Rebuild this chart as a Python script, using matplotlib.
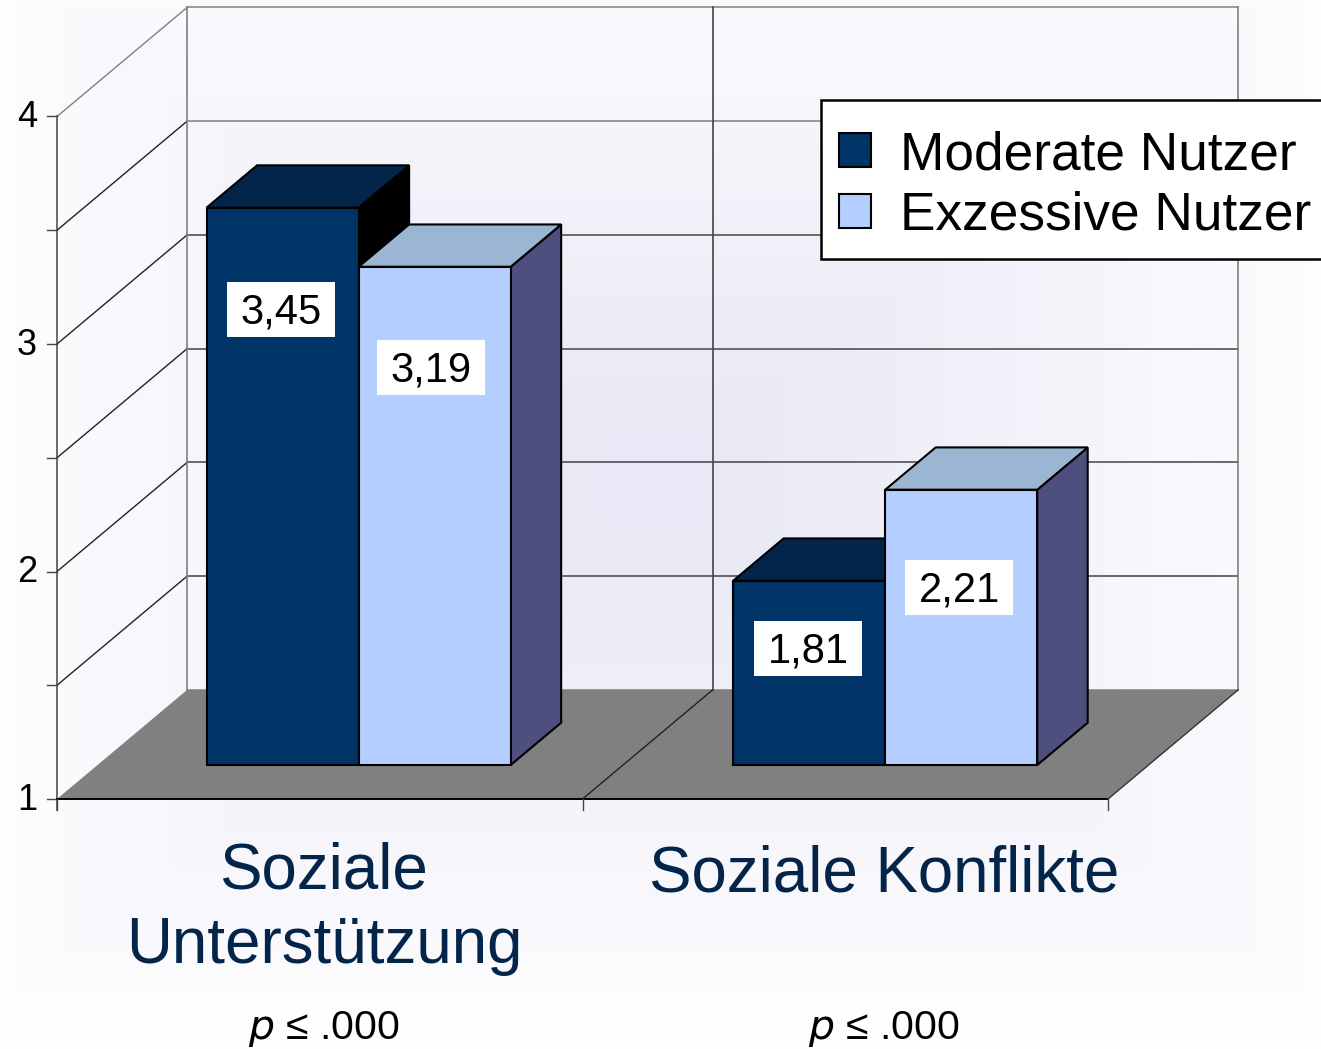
import matplotlib
matplotlib.use('Agg')
import matplotlib.pyplot as plt
import numpy as np
from matplotlib.patches import Polygon, Patch, Rectangle

plt.rcParams['font.family'] = ['Liberation Sans', 'DejaVu Sans']

# data
categories = ['Soziale\nUnterstützung', 'Soziale Konflikte']
moderate = [3.45, 1.81]
exzessiv = [3.19, 2.21]
series_names = ['Moderate Nutzer', 'Exzessive Nutzer']
value_labels = [['3,45', '1,81'], ['3,19', '2,21']]
p_labels = ['$\\mathit{p}$ ≤ .000', '$\\mathit{p}$ ≤ .000']
y_ticks = [1, 2, 3, 4]
grid_values = [1, 1.5, 2, 2.5, 3, 3.5, 4]

# pixels per unit, only used to set up the axes
px_x = 525.5
px_y = 227.5

W, H = 1321, 1049
fig = plt.figure(figsize=(W / 100, H / 100), dpi=100)
ax = fig.add_axes([0, 0, 1, 1])
ax.axis('off')

# depth of the wall, in data units
dx = 130 / px_x
dy = 109 / px_y


def proj(x, depth, v):
    return (x + depth * dx, v + depth * dy)


# background
yy, xx = np.mgrid[0:H, 0:W]
t = np.maximum(np.abs(xx - 660) / 680, np.abs(yy - 480) / 540)
t = np.clip(t, 0, 1)
t = np.round(t * 30) / 30
c0 = np.array([232, 232, 246]) / 255
c1 = np.array([254, 254, 255]) / 255
bg = c0 + (c1 - c0)[None, None, :] * t[:, :, None] ** 1.2
ax.imshow(bg, extent=[0, 1, 0, 1], transform=ax.transAxes, aspect='auto', zorder=0)
ax.set_xlim(-57 / px_x, (W - 57) / px_x)
ax.set_ylim(1 - (H - 799) / px_y, 1 + 799 / px_y)

# floor
floor = [proj(0, 0, 1), proj(0, 1, 1), proj(2, 1, 1), proj(2, 0, 1)]
ax.add_patch(Polygon(floor, closed=True, facecolor='#808080', edgecolor='none', zorder=1))

# walls and grid
grey = '#808080'
dark = '#444444'
for v in grid_values:
    c = grey if v >= 3.5 else dark
    p0, p1, p2 = proj(0, 0, v), proj(0, 1, v), proj(2, 1, v)
    if v > 1:
        ax.plot([p0[0], p1[0]], [p0[1], p1[1]], color=grey if v == 4 else '#222222', lw=1.0, zorder=2)
        ax.plot([p1[0], p2[0]], [p1[1], p2[1]], color=c, lw=1.1, zorder=2)
    else:
        ax.plot([p1[0], p2[0]], [p1[1], p2[1]], color=grey, lw=1.1, zorder=2)
    tick = proj(-10 / px_x, 0, v)
    ax.plot([tick[0], p0[0]], [v, v], color=dark, lw=1.0, zorder=2)

for x, col in [(0, grey), (1, dark), (2, grey)]:
    a, b = proj(x, 1, 1), proj(x, 1, 4)
    ax.plot([a[0], b[0]], [a[1], b[1]], color=col, lw=1.2, zorder=2)

ax.plot([0, 0], [1 - 11 / px_y, 4], color=dark, lw=1.1, zorder=2)
ax.plot([0, 2], [1, 1], color='black', lw=1.4, zorder=2)
for x in [0, 1, 2]:
    ax.plot([x, x], [1 - 11 / px_y, 1], color=dark, lw=1.0, zorder=2)
a, b = proj(1, 0, 1), proj(1, 1, 1)
ax.plot([a[0], b[0]], [a[1], b[1]], color='#222222', lw=1.0, zorder=2)
a, b = proj(2, 0, 1), proj(2, 1, 1)
ax.plot([a[0], b[0]], [a[1], b[1]], color='#333333', lw=1.0, zorder=2)

# bars
bar_left = 0.2076
bar_w = 0.2893
group_shift = [0, 0.002]
d0, d1 = 0.312, 0.70
front_cols = ['#003366', '#B3CEFF']
top_cols = ['#03254A', '#9BB6D3']
side_cols = ['#000000', '#4F4F7F']
label_drop = [[0.446, 0.296], [0.441, 0.428]]  # label centre below bar top
label_nudge = [[-2, -1], [-4, -2]]  # px, sideways from bar centre
box_w, box_h = 108 / px_x, 55 / px_y

for s, vals in enumerate([moderate, exzessiv]):
    for i, v in enumerate(vals):
        x0 = i + group_shift[i] + bar_left + s * bar_w
        x1 = x0 + bar_w
        z = 3 + s + i * 0.1
        front = [proj(x0, d0, 1), proj(x0, d0, v), proj(x1, d0, v), proj(x1, d0, 1)]
        top = [proj(x0, d0, v), proj(x0, d1, v), proj(x1, d1, v), proj(x1, d0, v)]
        side = [proj(x1, d0, 1), proj(x1, d0, v), proj(x1, d1, v), proj(x1, d1, 1)]
        for pts, col in [(side, side_cols[s]), (top, top_cols[s]), (front, front_cols[s])]:
            ax.add_patch(Polygon(pts, closed=True, facecolor=col, edgecolor='black',
                                 lw=1.5, joinstyle='miter', zorder=z))
        lx, ly = proj((x0 + x1) / 2 + label_nudge[s][i] / px_x, d0, v - label_drop[s][i])
        ax.add_patch(Rectangle((lx - box_w / 2, ly - box_h / 2), box_w, box_h, facecolor='white',
                               edgecolor='none', zorder=6))
        ax.text(lx, ly - 3 / px_y, value_labels[s][i], fontsize=30, color='black', ha='center', va='center', zorder=7)

# tick labels
for v in y_ticks:
    ax.text(-20 / px_x, v - 1.5 / px_y, str(v), fontsize=26, ha='right', va='center', color='black', zorder=6)

# category labels
label_x = [0.508, 1.574]
label_y = [1 - 109.5 / px_y, 1 - 75 / px_y]
for i, cat in enumerate(categories):
    ax.text(label_x[i], label_y[i], cat, fontsize=45.8, color='#03254A', ha='center', va='center',
            linespacing=1.3, zorder=6)
    ax.text(label_x[i], 1 - 230 / px_y, p_labels[i], fontsize=29.5, color='black', ha='center', va='center',
            zorder=6)

# legend
ax.add_patch(Rectangle((821 / W, 1 - 259 / H), 1, 159 / H, transform=ax.transAxes, facecolor='white',
                       edgecolor='black', lw=1.8, zorder=7))
handles = [Patch(facecolor=front_cols[k], edgecolor='black', lw=1.5, label=series_names[k]) for k in range(2)]
leg = ax.legend(handles=handles, loc='upper left', bbox_to_anchor=(821 / W, 1 - 112 / H),
                fontsize=38.3, frameon=False, borderaxespad=0, borderpad=0.34, handlelength=0.6,
                handleheight=0.6, handletextpad=0.55, labelspacing=0.2)
leg.set_zorder(8)

fig.savefig('out.png', dpi=100)
